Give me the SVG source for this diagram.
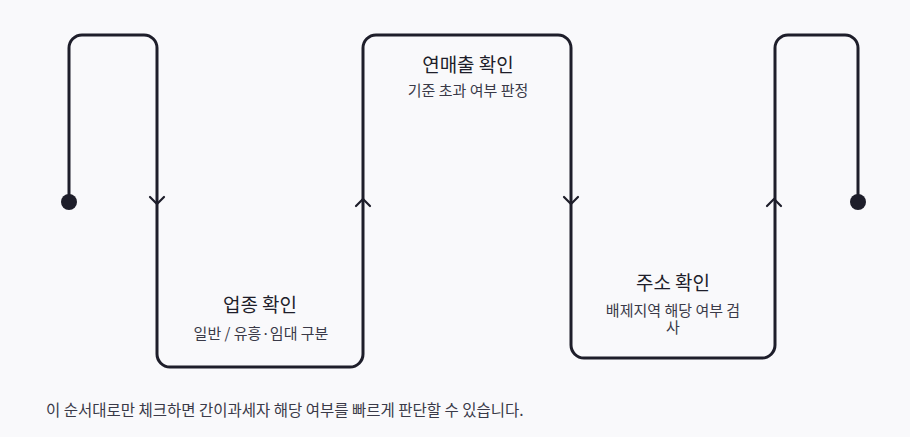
<svg xmlns="http://www.w3.org/2000/svg" width="910" height="437" viewBox="0 0 910 437">
<style>
.bg{fill:#f9f9fb}
.line{fill:none;stroke:#1e1e2a;stroke-width:3;stroke-linecap:round;stroke-linejoin:round}
.chev{fill:none;stroke:#1e1e2a;stroke-width:2.2;stroke-linecap:round;stroke-linejoin:round}
.dot{fill:#1e1e2a}
.t{font-family:"Noto Sans CJK KR","Noto Sans",sans-serif;fill:#1e1e2a;font-size:19px;text-anchor:middle}
.s{font-family:"Noto Sans CJK KR","Noto Sans",sans-serif;fill:#3a3a48;font-size:15px;text-anchor:middle}
.f{font-family:"Noto Sans CJK KR","Noto Sans",sans-serif;fill:#3a3a48;font-size:15.5px}
</style>
<rect class="bg" width="910" height="437"/>
<g id="connectors">
<path class="line" d="M69,202 V48 A13,13 0 0 1 82,35 H144 A13,13 0 0 1 157,48 V354 A13,13 0 0 0 170,367 H350 A13,13 0 0 0 363,354 V48 A13,13 0 0 1 376,35 H558 A13,13 0 0 1 571,48 V345 A13,13 0 0 0 584,358 H762 A13,13 0 0 0 775,345 V48 A13,13 0 0 1 788,35 H845 A13,13 0 0 1 858,48 V202"/>
<circle class="dot" cx="69" cy="202" r="8"/>
<circle class="dot" cx="858" cy="202" r="8"/>
<path class="chev" d="M150,197 L157,204 L164,197"/>
<path class="chev" d="M356,206 L363,199 L370,206"/>
<path class="chev" d="M564,197 L571,204 L578,197"/>
<path class="chev" d="M767,206 L774,199 L781,206"/>
</g>
<g id="node-upjong">
<text class="t" x="260" y="312">업종 확인</text>
<text class="s" x="261" y="339">일반 / 유흥·임대 구분</text>
</g>
<g id="node-revenue">
<text class="t" x="468" y="72">연매출 확인</text>
<text class="s" x="468" y="96">기준 초과 여부 판정</text>
</g>
<g id="node-address">
<text class="t" x="673" y="290">주소 확인</text>
<text class="s" x="673" y="316">배제지역 해당 여부 검<tspan x="673" y="333">사</tspan></text>
</g>
<g id="footer">
<text class="f" x="46" y="416">이 순서대로만 체크하면 간이과세자 해당 여부를 빠르게 판단할 수 있습니다.</text>
</g>
</svg>
